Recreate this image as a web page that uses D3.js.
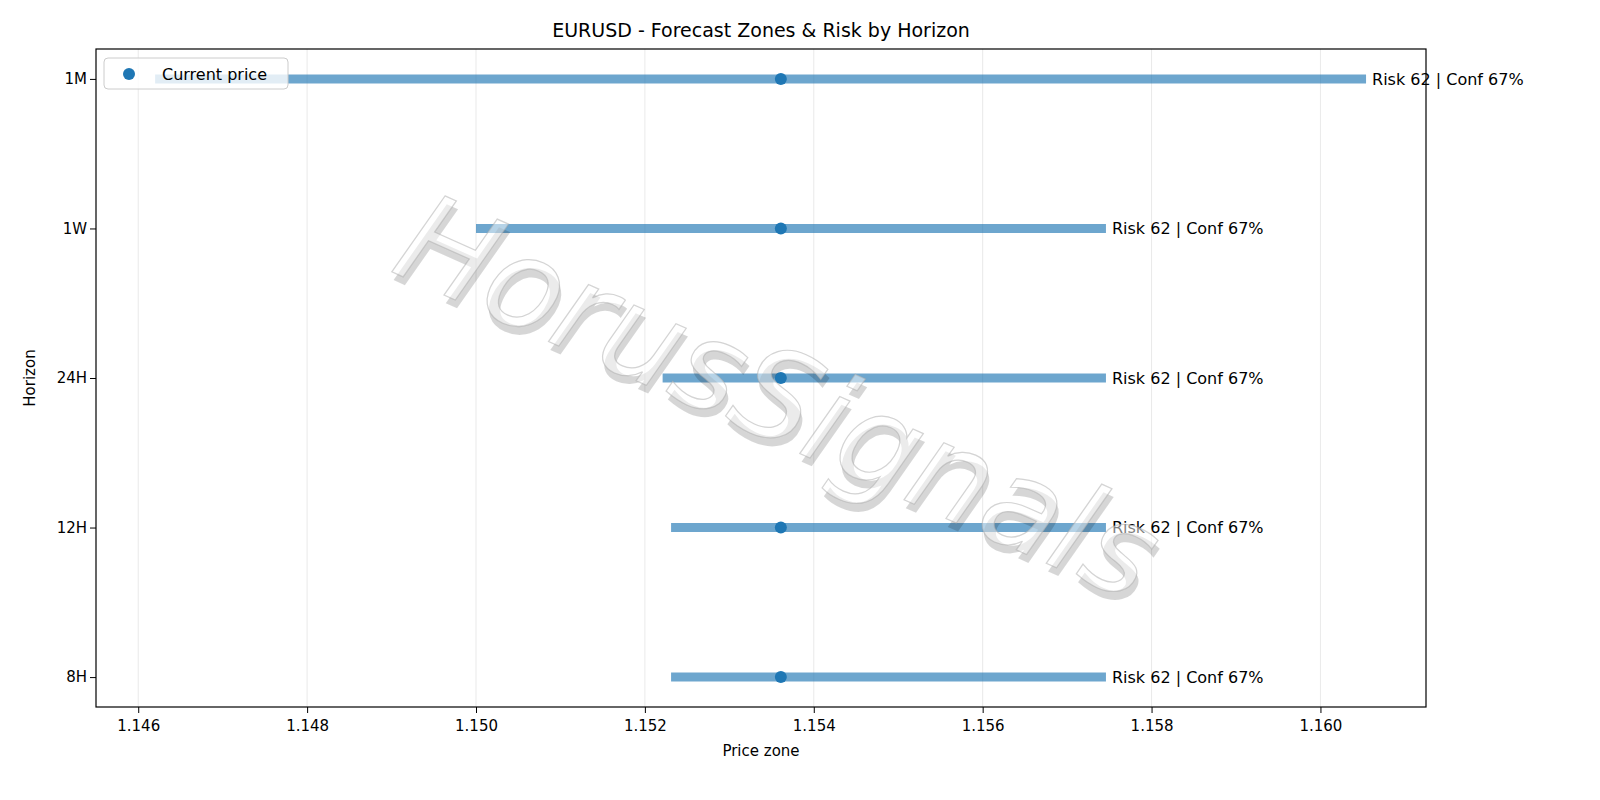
<!DOCTYPE html><html><head><script src="https://cdn.jsdelivr.net/npm/d3@7"></script>
<style>html,body{margin:0;background:#fff;overflow:hidden}svg{display:block}text{font-family:"DejaVu Sans",sans-serif}</style></head><body>
<svg id="c" width="1600" height="800"></svg>
<script>
const horizons=["8H","12H","24H","1W","1M"];
const zoneLow=[1.15231,1.15231,1.15221,1.15000,1.14620];
const zoneHigh=[1.15746,1.15746,1.15746,1.15746,1.16054];
const current=[1.15361,1.15361,1.15361,1.15361,1.15361];
const labels=["Risk 62 | Conf 67%","Risk 62 | Conf 67%","Risk 62 | Conf 67%","Risk 62 | Conf 67%","Risk 62 | Conf 67%"];
const xTicks=[1.146,1.148,1.150,1.152,1.154,1.156,1.158,1.160];
const svg=d3.select("#c");
const L=96,R=1426,T=49,B=707;
const x=d3.scaleLinear().domain([1.1455,1.16125]).range([L,R]);
const y=d3.scaleLinear().domain([-0.2,4.2]).range([B,T]);
const g=svg.append("g");
g.selectAll(".gr").data(xTicks).join("line").attr("x1",d=>x(d)).attr("x2",d=>x(d)).attr("y1",T).attr("y2",B).attr("stroke","#b0b0b0").attr("stroke-opacity",0.35).attr("stroke-width",0.8);
horizons.forEach((h,i)=>{
 g.append("line").attr("x1",x(zoneLow[i])).attr("x2",x(zoneHigh[i])).attr("y1",y(i)).attr("y2",y(i)).attr("stroke","#1f77b4").attr("stroke-opacity",0.65).attr("stroke-width",9);
 g.append("circle").attr("cx",x(current[i])).attr("cy",y(i)).attr("r",6).attr("fill","#1f77b4");
 g.append("text").attr("x",x(zoneHigh[i])+6).attr("y",y(i)).attr("dy","0.35em").attr("font-size",16).text(labels[i]);
});
svg.append("g").attr("transform",`translate(0,${B})`).call(d3.axisBottom(x).tickValues(xTicks).tickFormat(d3.format(".3f")).tickSizeOuter(0)).call(a=>{a.selectAll("text").attr("font-size",15).attr("fill","#000").attr("dy","1.0em");a.select(".domain").remove();});
svg.append("g").attr("transform",`translate(${L},0)`).call(d3.axisLeft(y).tickValues([0,1,2,3,4]).tickFormat(i=>horizons[i]).tickSizeOuter(0)).call(a=>{a.selectAll("text").attr("font-size",15).attr("fill","#000");a.select(".domain").remove();});
svg.append("rect").attr("x",L).attr("y",T).attr("width",R-L).attr("height",B-T).attr("fill","none").attr("stroke","#000").attr("stroke-width",1.2);
svg.append("text").attr("x",(L+R)/2).attr("y",37).attr("text-anchor","middle").attr("font-size",19).text("EURUSD - Forecast Zones & Risk by Horizon");
svg.append("text").attr("x",(L+R)/2).attr("y",756).attr("text-anchor","middle").attr("font-size",15).text("Price zone");
svg.append("text").attr("transform",`translate(35,${(T+B)/2}) rotate(-90)`).attr("text-anchor","middle").attr("font-size",15).text("Horizon");
const lg=svg.append("g");
lg.append("rect").attr("x",104).attr("y",58).attr("width",184).attr("height",31).attr("rx",4).attr("fill","#fff").attr("fill-opacity",0.8).attr("stroke","#ccc");
lg.append("circle").attr("cx",129).attr("cy",74).attr("r",6).attr("fill","#1f77b4");
lg.append("text").attr("x",162).attr("y",74).attr("dy","0.35em").attr("font-size",16).text("Current price");
const wm=svg.append("g").attr("transform","translate(775,405) rotate(24)");
wm.append("text").attr("x",5).attr("y",7).attr("text-anchor","middle").attr("dominant-baseline","middle").attr("font-size",125).attr("font-weight",200).attr("font-style","italic").attr("fill","#000").attr("fill-opacity",0.16).text("HorusSignals");
wm.append("text").attr("text-anchor","middle").attr("dominant-baseline","middle").attr("font-size",125).attr("font-weight",200).attr("font-style","italic").attr("fill","#fff").attr("fill-opacity",0.5).attr("stroke","#aaa").attr("stroke-opacity",0.5).attr("stroke-width",1.2).text("HorusSignals");
</script></body></html>
